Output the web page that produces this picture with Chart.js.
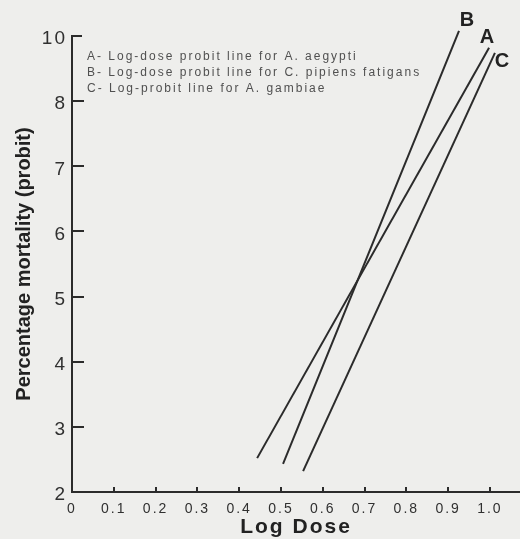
<!DOCTYPE html>
<html>
<head>
<meta charset="utf-8">
<script src="https://cdn.jsdelivr.net/npm/chart.js@4/dist/chart.umd.min.js"></script>
<style>
  html, body { margin: 0; padding: 0; background: #eeeeec; }
  #wrap { width: 520px; height: 539px; }
</style>
</head>
<body>
<div id="wrap"><canvas id="c" width="520" height="539"></canvas></div>
<script>
// ---- data ----
const seriesNames = ['A', 'B', 'C'];
const lineA = [{x: 0.443, y: 2.52}, {x: 0.998, y: 8.82}];
const lineB = [{x: 0.505, y: 2.43}, {x: 0.926, y: 9.08}];
const lineC = [{x: 0.553, y: 2.32}, {x: 1.012, y: 8.74}];
const xTickValues = [0, 0.1, 0.2, 0.3, 0.4, 0.5, 0.6, 0.7, 0.8, 0.9, 1.0];
const xTickLabels = ['0', '0.1', '0.2', '0.3', '0.4', '0.5', '0.6', '0.7', '0.8', '0.9', '1.0'];
const yTickValues = [2, 3, 4, 5, 6, 7, 8, 9];
const yTickLabels = ['2', '3', '4', '5', '6', '7', '8', '10'];
const legendLines = [
  'A- Log-dose probit line for A. aegypti',
  'B- Log-dose probit line for C. pipiens fatigans',
  'C- Log-probit line for A. gambiae'
];
const xTitle = 'Log Dose';
const yTitle = 'Percentage mortality (probit)';

const ink = '#2b2b2b';
const labelOffsets = [[-2, -10], [8, -10], [7, 9]];
const FONT = '"Liberation Sans", Arial, sans-serif';

function setSpacing(ctx, v) { try { ctx.letterSpacing = v; } catch (e) {} }

const decorPlugin = {
  id: 'decor',
  afterLayout(chart) {
    const ys = chart.scales.y;
    if (ys && !ys._wrappedTitle) {
      const orig = ys.drawTitle;
      ys.drawTitle = function () {
        const ctx = this.ctx;
        ctx.save(); setSpacing(ctx, '0px'); orig.apply(this, arguments); ctx.restore();
      };
      ys._wrappedTitle = true;
    }
  },
  beforeDraw(chart) {
    setSpacing(chart.ctx, '2px');
  },
  afterDatasetsDraw(chart) {
    const ctx = chart.ctx;
    const xs = chart.scales.x, ys = chart.scales.y;
    const area = chart.chartArea;
    ctx.save();
    ctx.strokeStyle = ink;
    ctx.lineWidth = 2;
    // inner y ticks
    yTickValues.forEach((v, i) => {
      if (i === 0) return;
      const py = Math.round(ys.getPixelForValue(v));
      ctx.beginPath();
      if (i === yTickValues.length - 1) {
        ctx.moveTo(area.left - 1, py); ctx.lineTo(area.left + 10, py);
      } else {
        ctx.moveTo(area.left, py); ctx.lineTo(area.left + 12, py);
      }
      ctx.stroke();
    });
    // inner x ticks
    xTickValues.forEach((v, i) => {
      if (i === 0) return;
      const px = Math.round(xs.getPixelForValue(v));
      ctx.beginPath();
      ctx.moveTo(px, area.bottom); ctx.lineTo(px, area.bottom - 5);
      ctx.stroke();
    });
    // legend text
    ctx.fillStyle = '#505050';
    ctx.font = '12px ' + FONT;
    setSpacing(ctx, '2px');
    ctx.textBaseline = 'middle';
    ctx.textAlign = 'left';
    legendLines.forEach((t, i) => {
      ctx.fillText(t, area.left + 15, area.top + 21 + i * 16);
    });
    // series end labels
    setSpacing(ctx, '0px');
    ctx.fillStyle = '#222';
    ctx.font = 'bold 20px ' + FONT;
    ctx.textAlign = 'center';
    chart.data.datasets.forEach((ds, i) => {
      const meta = chart.getDatasetMeta(i);
      const pt = meta.data[meta.data.length - 1];
      ctx.fillText(ds.label, pt.x + labelOffsets[i][0], pt.y + labelOffsets[i][1]);
    });
    ctx.restore();
  }
};

const mk = (name, pts) => ({
  label: name, data: pts, borderColor: ink, borderWidth: 2,
  pointRadius: 0, fill: false, tension: 0, clip: false
});

new Chart(document.getElementById('c'), {
  type: 'line',
  data: { datasets: [mk(seriesNames[0], lineA), mk(seriesNames[1], lineB), mk(seriesNames[2], lineC)] },
  options: {
    responsive: false,
    animation: false,
    events: [],
    layout: { padding: { top: 36, left: 0, right: 0, bottom: 0 } },
    plugins: { legend: { display: false }, tooltip: { enabled: false } },
    scales: {
      x: {
        type: 'linear', min: 0, max: 1.072,
        afterBuildTicks(s) { s.ticks = xTickValues.map(v => ({ value: v })); },
        afterFit(s) { s.height = 47; },
        grid: { display: false, drawTicks: false },
        border: { display: true, color: ink, width: 2 },
        ticks: {
          color: '#303030', padding: 9, maxRotation: 0, autoSkip: false,
          font: { family: FONT, size: 14 },
          callback: (v) => { const i = xTickValues.findIndex(t => Math.abs(t - v) < 1e-6); return i >= 0 ? xTickLabels[i] : ''; }
        },
        title: {
          display: true, text: xTitle, color: '#222', padding: { top: 0, bottom: 1 },
          font: { family: FONT, size: 21, weight: 'bold', lineHeight: 1 }
        }
      },
      y: {
        type: 'linear', min: 2, max: 9,
        afterBuildTicks(s) { s.ticks = yTickValues.map(v => ({ value: v })); },
        afterFit(s) { s.width = 72; },
        grid: { display: false, drawTicks: false },
        border: { display: true, color: ink, width: 2 },
        ticks: {
          color: '#303030', padding: 5, autoSkip: false, labelOffset: 3,
          font: { family: FONT, size: 19 },
          callback: (v) => { const i = yTickValues.indexOf(v); return i >= 0 ? yTickLabels[i] : ''; }
        },
        title: {
          display: true, text: yTitle, color: '#222', padding: { top: 12, bottom: 0 },
          font: { family: FONT, size: 20, weight: 'bold' }
        }
      }
    }
  },
  plugins: [decorPlugin]
});
</script>
</body>
</html>
